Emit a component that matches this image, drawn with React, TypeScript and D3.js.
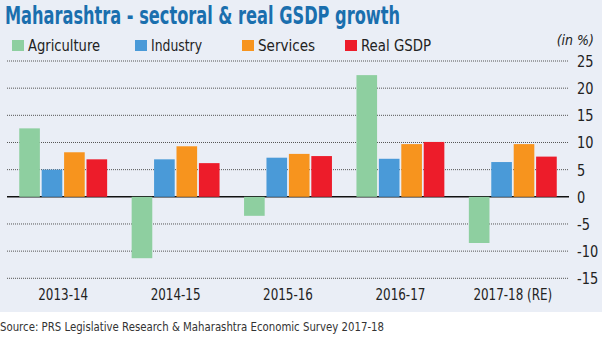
import React from "react";
import * as d3 from "d3";

const categories = ["2013-14", "2014-15", "2015-16", "2016-17", "2017-18 (RE)"];
const seriesNames = ["Agriculture", "Industry", "Services", "Real GSDP"];
const agriculture = [12.6, -11.3, -3.5, 22.4, -8.5];
const industry = [5.0, 6.9, 7.2, 7.0, 6.4];
const services = [8.2, 9.3, 7.9, 9.7, 9.7];
const realGsdp = [6.9, 6.2, 7.5, 10.1, 7.4];
const yTicks = [25, 20, 15, 10, 5, 0, -5, -10, -15];

const colors = ["#8ecfa0", "#4a9ad8", "#f7941e", "#ed1c2a"];
const W = 609;
const H = 337;
const FONT = "'Liberation Sans Narrow', 'DejaVu Sans Condensed', 'Roboto', sans-serif";

export default function App() {
  const series = [agriculture, industry, services, realGsdp];
  const x0 = d3.scaleBand<string>().domain(categories).range([7, 569]).paddingInner(0.218).paddingOuter(0.109);
  const x1 = d3.scaleBand<string>().domain(seriesNames).range([0, x0.bandwidth()]).paddingInner(0.08);
  const y = d3.scaleLinear().domain([-15, 25]).range([278.3, 61]);
  const legendX = [12, 135, 242, 345];
  const legendW = [72, 51, 57, 70];

  return (
    <svg width={W} height={H} style={{ position: "absolute", left: 0, top: 0, display: "block" }}>
      <rect x={0} y={0} width={W} height={H} fill="#ffffff" />
      <rect x={0} y={0} width={602} height={312} fill="#eaeef6" />
      <text x={5} y={24} fontFamily={FONT} fontWeight="bold" fontSize={24} fill="#1a6fae" textLength={395} lengthAdjust="spacingAndGlyphs">
        Maharashtra - sectoral &amp; real GSDP growth
      </text>
      {seriesNames.map((s, i) => (
        <g key={s}>
          <rect x={legendX[i]} y={40} width={12} height={11} fill={colors[i]} />
          <text x={legendX[i] + 16} y={51} fontFamily={FONT} fontSize={16} fill="#222" textLength={legendW[i]} lengthAdjust="spacingAndGlyphs">{s}</text>
        </g>
      ))}
      <text x={594} y={45} textAnchor="end" fontFamily={FONT} fontStyle="italic" fontSize={14} fill="#222">(in %)</text>
      {yTicks.map((t) => (
        <g key={t}>
          {t !== 0 && (
            <line x1={7} x2={569} y1={y(t)} y2={y(t)} stroke="#555" strokeWidth={1} strokeDasharray="1,1" />
          )}
          <text transform={`translate(577,${y(t) + 6}) scale(0.9,1)`} fontFamily={FONT} fontSize={16} fill="#222">{t}</text>
        </g>
      ))}
      <line x1={7} x2={569} y1={y(0)} y2={y(0)} stroke="#111" strokeWidth={1.5} />
      {categories.map((c, ci) => (
        <g key={c} transform={`translate(${x0(c)},0)`}>
          {seriesNames.map((s, si) => {
            const v = series[si][ci];
            return (
              <rect key={s} x={x1(s)} y={y(Math.max(0, v))} width={x1.bandwidth()} height={Math.abs(y(v) - y(0))} fill={colors[si]} />
            );
          })}
          <text transform={`translate(${x0.bandwidth() / 2},300) scale(0.83,1)`} textAnchor="middle" fontFamily={FONT} fontSize={16} fill="#222">{c}</text>
        </g>
      ))}
      <text x={0} y={331} fontFamily={FONT} fontSize={13} fill="#333" textLength={384} lengthAdjust="spacingAndGlyphs">
        Source: PRS Legislative Research &amp; Maharashtra Economic Survey 2017-18
      </text>
    </svg>
  );
}
